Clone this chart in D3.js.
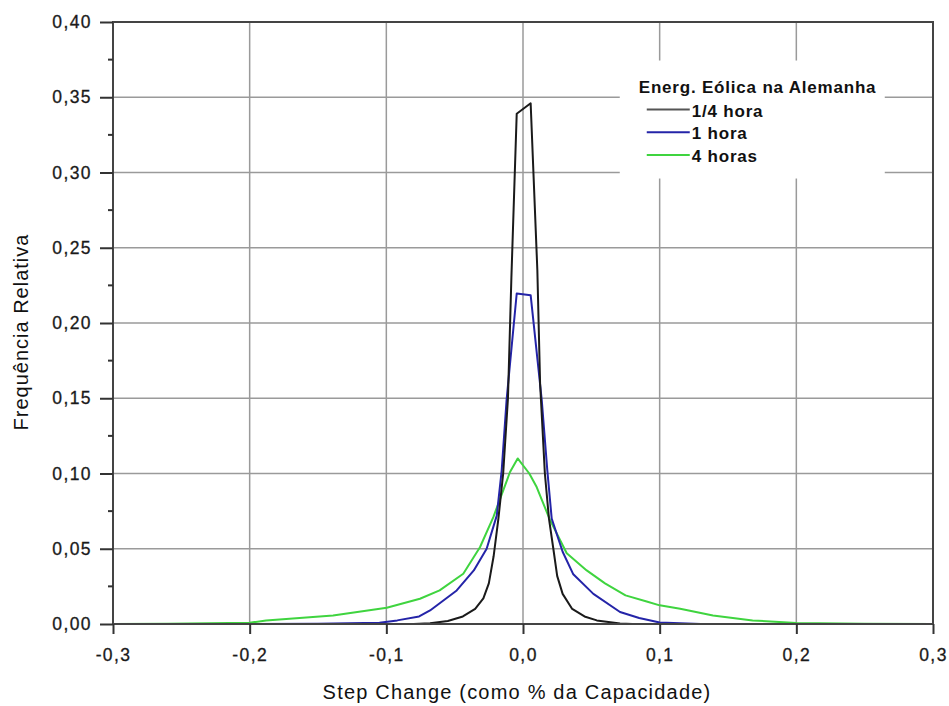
<!DOCTYPE html>
<html>
<head>
<meta charset="utf-8">
<script src="https://cdn.jsdelivr.net/npm/d3@7"></script>
<style>
  body { margin: 0; background: #fff; }
  svg { display: block; font-family: "Liberation Sans", Arial, sans-serif; }
</style>
</head>
<body>
<div id="chart"></div>
<script>
// series: [step change, relative frequency]
const quarterHour = [
  [-0.30, 0], [-0.08, 0], [-0.068, 0.0005], [-0.055, 0.002], [-0.044, 0.005],
  [-0.035, 0.010], [-0.029, 0.017], [-0.025, 0.027], [-0.0215, 0.045], [-0.018, 0.07],
  [-0.0145, 0.10], [-0.011, 0.15], [-0.0085, 0.23], [-0.0046, 0.339], [0.0056, 0.346],
  [0.0105, 0.235], [0.0125, 0.16], [0.016, 0.10], [0.019, 0.07], [0.0222, 0.05],
  [0.025, 0.032], [0.029, 0.02], [0.036, 0.010], [0.045, 0.005], [0.054, 0.0024],
  [0.071, 0.0003], [0.08, 0], [0.30, 0]
];
const oneHour = [
  [-0.30, 0], [-0.20, 0], [-0.15, 0.0002], [-0.105, 0.0008], [-0.092, 0.0024],
  [-0.076, 0.005], [-0.068, 0.009], [-0.0485, 0.0223], [-0.036, 0.0356], [-0.0266, 0.05],
  [-0.0192, 0.072], [-0.0156, 0.102], [-0.012, 0.149], [-0.0046, 0.2196], [0.0056, 0.2185],
  [0.0137, 0.149], [0.0178, 0.102], [0.021, 0.07], [0.029, 0.048], [0.0368, 0.033],
  [0.0515, 0.020], [0.071, 0.008], [0.085, 0.004], [0.10, 0.001], [0.13, 0], [0.30, 0]
];
const fourHours = [
  [-0.30, 0], [-0.26, 0.0002], [-0.20, 0.0008], [-0.188, 0.0024], [-0.139, 0.0057],
  [-0.0997, 0.0108], [-0.0754, 0.0168], [-0.061, 0.0223], [-0.0437, 0.0334], [-0.0315, 0.051],
  [-0.0217, 0.071], [-0.0144, 0.089], [-0.0095, 0.101], [-0.0039, 0.110], [0.0046, 0.10],
  [0.010, 0.091], [0.0198, 0.069], [0.032, 0.047], [0.0466, 0.0356], [0.06, 0.027],
  [0.075, 0.019], [0.0905, 0.015], [0.10, 0.0124], [0.115, 0.0102], [0.139, 0.0057],
  [0.168, 0.0024], [0.20, 0.0006], [0.25, 0.0002], [0.30, 0]
];

const seriesNames = ["1/4 hora", "1 hora", "4 horas"];
const seriesColors = ["#1a1a1a", "#2424a8", "#3fd43f"];
const xTicks = [-0.3, -0.2, -0.1, 0.0, 0.1, 0.2, 0.3];
const yTicks = [0, 0.05, 0.10, 0.15, 0.20, 0.25, 0.30, 0.35, 0.40];
const yMinorTicks = [0.025, 0.075, 0.125, 0.175, 0.225, 0.275, 0.325, 0.375];
const legendTitle = "Energ. Eólica na Alemanha";
const xTitle = "Step Change (como % da Capacidade)";
const yTitle = "Frequência Relativa";

const width = 949, height = 706;
const margin = { top: 22, right: 16, bottom: 82, left: 113 };
const comma = d3.format(".2f");

const svg = d3.select("#chart").append("svg")
    .attr("width", width)
    .attr("height", height);

const x = d3.scaleLinear().domain([-0.3, 0.3]).range([margin.left, width - margin.right]);
const y = d3.scaleLinear().domain([0, 0.4]).range([height - margin.bottom, margin.top]);

// grid
svg.append("g")
    .selectAll("line")
    .data(xTicks)
    .join("line")
    .attr("x1", d => x(d)).attr("x2", d => x(d))
    .attr("y1", y(0.4)).attr("y2", y(0))
    .attr("stroke", "#9a9a9a").attr("stroke-width", 1.5);

svg.append("g")
    .selectAll("line")
    .data(yTicks)
    .join("line")
    .attr("x1", x(-0.3)).attr("x2", x(0.3))
    .attr("y1", d => y(d)).attr("y2", d => y(d))
    .attr("stroke", "#9a9a9a").attr("stroke-width", 1.5);

// legend background hides grid
const legend = svg.append("g").attr("transform", `translate(${x(0.0708)},${y(0.3744)})`);
legend.append("rect")
    .attr("width", 265).attr("height", 118)
    .attr("fill", "#fff");

// curves
const line = d3.line().x(d => x(d[0])).y(d => y(d[1]));
const series = [quarterHour, oneHour, fourHours];

svg.append("g")
    .selectAll("path")
    .data([fourHours, oneHour, quarterHour])
    .join("path")
    .attr("d", line)
    .attr("fill", "none")
    .attr("stroke", d => seriesColors[series.indexOf(d)])
    .attr("stroke-width", 2)
    .attr("stroke-linejoin", "round");

// frame
svg.append("rect")
    .attr("x", x(-0.3)).attr("y", y(0.4))
    .attr("width", x(0.3) - x(-0.3)).attr("height", y(0) - y(0.4))
    .attr("fill", "none").attr("stroke", "#444").attr("stroke-width", 2);

// axes
const xAxis = svg.append("g")
    .attr("transform", `translate(0,${y(0)})`)
    .call(d3.axisBottom(x).tickValues(xTicks).tickSize(10).tickPadding(15)
        .tickFormat(d => d3.format(".1f")(d).replace(".", ",").replace("−", "-")));
xAxis.select(".domain").remove();
xAxis.selectAll("line").attr("stroke", "#333").attr("stroke-width", 2);
xAxis.selectAll("text")
    .attr("font-size", 17.5).attr("fill", "#1a1a1a")
    .attr("letter-spacing", "1.4px")
    .attr("stroke", "#1a1a1a").attr("stroke-width", 0.3)
    .attr("font-family", "Liberation Sans, Arial, sans-serif");

const yAxis = svg.append("g")
    .attr("transform", `translate(${x(-0.3)},0)`)
    .call(d3.axisLeft(y).tickValues(yTicks).tickSize(13).tickPadding(8)
        .tickFormat(d => comma(d).replace(".", ",")));
yAxis.select(".domain").remove();
yAxis.selectAll("line").attr("stroke", "#333").attr("stroke-width", 2);
yAxis.selectAll("text")
    .attr("font-size", 17.5).attr("fill", "#1a1a1a")
    .attr("letter-spacing", "1.4px")
    .attr("stroke", "#1a1a1a").attr("stroke-width", 0.3)
    .attr("font-family", "Liberation Sans, Arial, sans-serif");

svg.append("g")
    .selectAll("line")
    .data(yMinorTicks)
    .join("line")
    .attr("x1", x(-0.3) - 5).attr("x2", x(-0.3))
    .attr("y1", d => y(d)).attr("y2", d => y(d))
    .attr("stroke", "#333").attr("stroke-width", 2);

// titles
svg.append("text")
    .attr("x", 517).attr("y", 699)
    .attr("text-anchor", "middle")
    .attr("font-size", 20)
    .attr("letter-spacing", "1.2px")
    .attr("fill", "#111")
    .text(xTitle);

svg.append("text")
    .attr("transform", "translate(28,332) rotate(-90)")
    .attr("text-anchor", "middle")
    .attr("font-size", 20)
    .attr("letter-spacing", "1px")
    .attr("fill", "#111")
    .text(yTitle);

// legend
legend.append("text")
    .attr("x", 19).attr("y", 32)
    .attr("font-size", 17)
    .attr("font-weight", "bold")
    .attr("letter-spacing", "0.8px")
    .attr("fill", "#111")
    .text(legendTitle);

const item = legend.selectAll("g.item")
    .data(seriesNames)
    .join("g")
    .attr("class", "item")
    .attr("transform", (d, i) => `translate(0,${49 + i * 22.7})`);

item.append("line")
    .attr("x1", 27).attr("x2", 70)
    .attr("stroke", (d, i) => i === 0 ? "#555" : seriesColors[i])
    .attr("stroke-width", 2);

item.append("text")
    .attr("x", 72).attr("y", 7)
    .attr("font-size", 17)
    .attr("font-weight", "bold")
    .attr("letter-spacing", "0.8px")
    .attr("fill", "#111")
    .text(d => d);
</script>
</body>
</html>
